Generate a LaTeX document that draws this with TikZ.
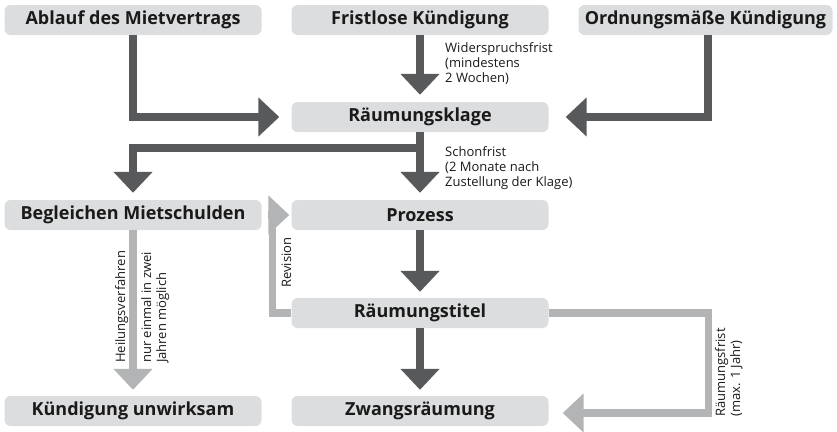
\documentclass[tikz,border=0pt]{standalone}
\usepackage{fontspec}
\setmainfont{Open Sans}
\usetikzlibrary{arrows.meta,calc}
\definecolor{boxgray}{HTML}{DCDDDE}
\definecolor{darkarr}{HTML}{58595B}
\definecolor{lightarr}{HTML}{B3B4B6}
\definecolor{txt}{HTML}{1A1A1A}
\begin{document}
\begin{tikzpicture}[x=1pt,y=-1pt,
  box/.style={fill=boxgray, rounded corners=6pt, minimum width=257pt, minimum height=30pt, inner sep=0pt, text=txt, font=\fontsize{18}{20}\selectfont\bfseries},
  darr/.style={color=darkarr, line width=7.5pt, line join=miter, -{Triangle[width=38pt,length=21pt]}},
  larr/.style={color=lightarr, line width=7.5pt, line join=miter, -{Triangle[width=38pt,length=21pt]}},
  lshaft/.style={color=lightarr, line width=7.5pt, line join=miter},
  lbl/.style={font=\fontsize{13}{15}\selectfont, text=txt, inner sep=0pt, align=left}]
\useasboundingbox (0,0) rectangle (837,431);
% boxes
\node[box] (abl) at (133,20) {Ablauf des Mietvertrags};
\node[box] (fri) at (420,20) {Fristlose Kündigung};
\node[box, minimum width=254pt] (ord) at (705.5,20) {Ordnungsmäße Kündigung};
\node[box] (rk) at (420,117) {Räumungsklage};
\node[box] (beg) at (133,215) {Begleichen Mietschulden};
\node[box] (pro) at (420,215) {Prozess};
\node[box] (rt) at (420,313) {Räumungstitel};
\node[box] (kue) at (133,411) {Kündigung unwirksam};
\node[box] (zw) at (420,411) {Zwangsräumung};
% dark arrows
\draw[darr] (abl.south) |- ($(rk.west)+(-12,0)$);
\draw[darr] (fri.south) -- ($(rk.north)+(0,-7)$);
\draw[darr] ($(ord.south)+(2.5,0)$) |- ($(rk.east)+(17,0)$);
\draw[darr] (rk.south) -- ++(0,16) -| ($(beg.north)+(0,-7)$);
\draw[darr] (rk.south) -- ($(pro.north)+(0,-7)$);
\draw[darr] (pro.south) -- ($(rt.north)+(0,-6)$);
\draw[darr] (rt.south) -- ($(zw.north)+(0,-6)$);
% light arrows
\draw[larr] (beg.south) -- ($(kue.north)+(0,-6)$);
\draw[lshaft] (rt.west) -| ($(pro.west)+(-19,0)$);
\draw[larr] ($(pro.west)+(-23,0)$) -- ($(pro.west)+(-2,0)$);
\draw[larr] (rt.east) -| ($(zw.east)+(160,2)$) -- ($(zw.east)+(14,2)$);
% labels
\node[lbl, anchor=north west] (lw) at (445,42) {Widerspruchsfrist\\(mindestens\\2 Wochen)};
\node[lbl, anchor=north west] (ls) at (445,146) {Schonfrist\\(2 Monate nach\\Zustellung der Klage)};
\node[lbl, rotate=90, anchor=base west] (lr) at (291,288) {Revision};
\node[lbl, rotate=90, anchor=base west] (lh) at (125,363) {Heilungsverfahren};
\node[lbl, rotate=90, anchor=north west] (ln) at (141,363) {nur einmal in zwei\\Jahren möglich};
\node[lbl, rotate=90, anchor=north west] (lf) at (715,417) {Räumungsfrist\\(max. 1 Jahr)};
\end{tikzpicture}
\end{document}
